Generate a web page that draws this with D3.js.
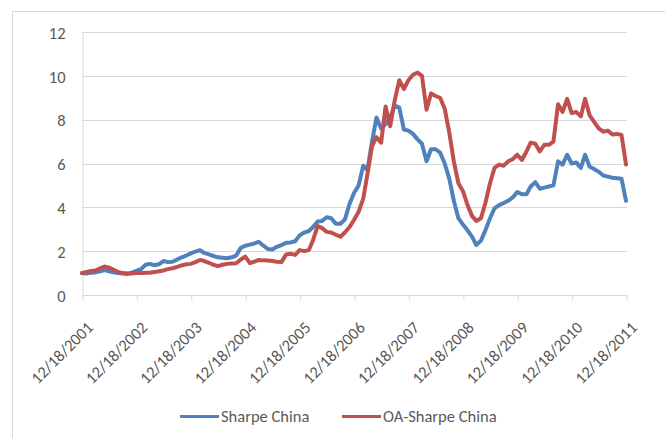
<!DOCTYPE html>
<html>
<head>
<meta charset="utf-8">
<script src="https://cdn.jsdelivr.net/npm/d3@7"></script>
<style>
  html, body { margin: 0; padding: 0; background: #fff; }
  svg { display: block; }
  text { font-family: Carlito, Calibri, Lato, "Liberation Sans", sans-serif; fill: #595959; }
</style>
</head>
<body>
<svg id="chart" width="665" height="438"></svg>
<script>
const months = [
  "2001-12",
  "2002-01","2002-02","2002-03","2002-04","2002-05","2002-06","2002-07","2002-08","2002-09","2002-10","2002-11","2002-12",
  "2003-01","2003-02","2003-03","2003-04","2003-05","2003-06","2003-07","2003-08","2003-09","2003-10","2003-11","2003-12",
  "2004-01","2004-02","2004-03","2004-04","2004-05","2004-06","2004-07","2004-08","2004-09","2004-10","2004-11","2004-12",
  "2005-01","2005-02","2005-03","2005-04","2005-05","2005-06","2005-07","2005-08","2005-09","2005-10","2005-11","2005-12",
  "2006-01","2006-02","2006-03","2006-04","2006-05","2006-06","2006-07","2006-08","2006-09","2006-10","2006-11","2006-12",
  "2007-01","2007-02","2007-03","2007-04","2007-05","2007-06","2007-07","2007-08","2007-09","2007-10","2007-11","2007-12",
  "2008-01","2008-02","2008-03","2008-04","2008-05","2008-06","2008-07","2008-08","2008-09","2008-10","2008-11","2008-12",
  "2009-01","2009-02","2009-03","2009-04","2009-05","2009-06","2009-07","2009-08","2009-09","2009-10","2009-11","2009-12",
  "2010-01","2010-02","2010-03","2010-04","2010-05","2010-06","2010-07","2010-08","2010-09","2010-10","2010-11","2010-12",
  "2011-01","2011-02","2011-03","2011-04","2011-05","2011-06","2011-07","2011-08","2011-09","2011-10","2011-11","2011-12"
];

const sharpeChina = [
  1.00,
  0.98,1.02,1.03,1.08,1.14,1.08,1.03,1.00,0.98,0.96,1.02,1.10,
  1.18,1.38,1.42,1.36,1.40,1.55,1.50,1.52,1.62,1.72,1.80,1.90,
  1.98,2.04,1.92,1.85,1.78,1.72,1.70,1.68,1.72,1.80,2.15,2.25,
  2.30,2.35,2.43,2.26,2.10,2.08,2.20,2.28,2.38,2.40,2.45,2.72,
  2.85,2.92,3.10,3.35,3.38,3.55,3.50,3.25,3.25,3.45,4.15,4.65,
  5.00,5.90,5.70,7.00,8.10,7.60,7.80,8.10,8.65,8.55,7.55,7.50,
  7.35,7.10,6.90,6.10,6.65,6.65,6.50,6.00,5.30,4.30,3.50,3.22,
  2.95,2.65,2.28,2.48,2.95,3.50,3.95,4.10,4.20,4.30,4.45,4.70,
  4.60,4.60,4.95,5.15,4.85,4.90,4.95,5.00,6.10,5.95,6.40,6.00,
  6.05,5.80,6.40,5.85,5.75,5.62,5.45,5.40,5.35,5.33,5.30,4.30
];

const oaSharpeChina = [
  1.00,
  1.05,1.10,1.12,1.22,1.30,1.25,1.15,1.05,1.00,0.98,0.98,1.00,
  1.00,1.01,1.02,1.05,1.08,1.12,1.18,1.22,1.28,1.35,1.40,1.42,
  1.50,1.60,1.55,1.47,1.38,1.32,1.38,1.42,1.44,1.45,1.62,1.75,
  1.45,1.52,1.60,1.58,1.57,1.55,1.52,1.50,1.85,1.88,1.83,2.05,
  2.00,2.05,2.50,3.15,3.05,2.88,2.85,2.75,2.66,2.85,3.10,3.42,
  3.80,4.40,5.50,6.80,7.20,6.95,8.60,7.70,8.90,9.80,9.40,9.80,
  10.05,10.15,10.00,8.45,9.20,9.08,9.00,8.50,7.40,6.10,5.10,4.75,
  4.10,3.60,3.38,3.50,4.20,5.10,5.80,5.95,5.90,6.10,6.20,6.40,
  6.16,6.55,6.95,6.90,6.55,6.85,6.85,7.00,8.70,8.35,8.95,8.30,
  8.35,8.15,8.95,8.20,7.90,7.60,7.45,7.50,7.32,7.35,7.30,5.95
];

const tickLabels = ["12/18/2001","12/18/2002","12/18/2003","12/18/2004","12/18/2005","12/18/2006",
                    "12/18/2007","12/18/2008","12/18/2009","12/18/2010","12/18/2011"];
const yTicks = [0, 2, 4, 6, 8, 10, 12];
const seriesNames = ["Sharpe China", "OA-Sharpe China"];
const seriesColors = ["#4F81BD", "#C0504D"];

const svg = d3.select("#chart");
const parseMonth = d3.timeParse("%Y-%m-%d");
const parseTick = d3.timeParse("%m/%d/%Y");
const dates = months.map(m => parseMonth(m + "-18"));
const tickDates = tickLabels.map(parseTick);

const margin = { left: 82, right: 39, top: 32, bottom: 143 };
const W = 665, H = 438;
const x = d3.scaleTime().domain([tickDates[0], tickDates[tickDates.length - 1]]).range([margin.left, W - margin.right]);
const y = d3.scaleLinear().domain([0, 12]).range([H - margin.bottom, margin.top]);

// outer chart frame
svg.append("rect").attr("x", 12.5).attr("y", 11.5).attr("width", 700).attr("height", 500)
  .attr("fill", "#fff").attr("stroke", "#D9D9D9").attr("stroke-width", 1);

// gridlines
svg.append("g").selectAll("line").data(yTicks.filter(d => d > 0)).join("line")
  .attr("x1", margin.left).attr("x2", W - margin.right + 1)
  .attr("y1", d => Math.round(y(d)) + 0.5).attr("y2", d => Math.round(y(d)) + 0.5)
  .attr("stroke", "#D9D9D9").attr("stroke-width", 1);

// y axis
const yAxis = d3.axisLeft(y).tickValues(yTicks).tickSize(0).tickPadding(17);
const gy = svg.append("g").attr("transform", `translate(${margin.left + 0.5},0.5)`).call(yAxis);
gy.select(".domain").attr("stroke", "#D9D9D9");
gy.selectAll("text").style("font-size", "16.5px").attr("fill", "#595959").attr("dy", "0.35em");

// x axis
const xAxis = d3.axisBottom(x).tickValues(tickDates).tickSize(5).tickFormat((d, i) => tickLabels[i]);
const gx = svg.append("g").attr("transform", `translate(0.5,${Math.round(y(0)) + 0.5})`).call(xAxis);
gx.select(".domain").attr("stroke", "#D9D9D9").attr("d", `M${margin.left},0H${W - margin.right + 1}`);
gx.selectAll(".tick line").attr("stroke", "#D9D9D9");
gx.selectAll("text")
  .style("font-size", "16.5px").attr("fill", "#595959")
  .attr("text-anchor", "end").attr("dy", "0.35em").attr("y", 0)
  .attr("transform", "translate(7,29) rotate(-45)");

// lines
const line = d3.line().x((d, i) => x(dates[i])).y(d => y(d)).curve(d3.curveLinear);
[sharpeChina, oaSharpeChina].forEach((vals, k) => {
  svg.append("path").datum(vals).attr("d", line)
    .attr("fill", "none").attr("stroke", seriesColors[k]).attr("stroke-width", 4)
    .attr("stroke-linejoin", "round").attr("stroke-linecap", "round");
});

// legend
const legendX = [180, 342];
const legend = svg.append("g");
seriesNames.forEach((name, k) => {
  legend.append("line").attr("x1", legendX[k]).attr("x2", legendX[k] + 39)
    .attr("y1", 416.5).attr("y2", 416.5).attr("stroke", seriesColors[k]).attr("stroke-width", 3);
  legend.append("text").attr("x", legendX[k] + 41).attr("y", 416).attr("dy", "0.35em")
    .style("font-size", "16.5px").text(name);
});
</script>
</body>
</html>
